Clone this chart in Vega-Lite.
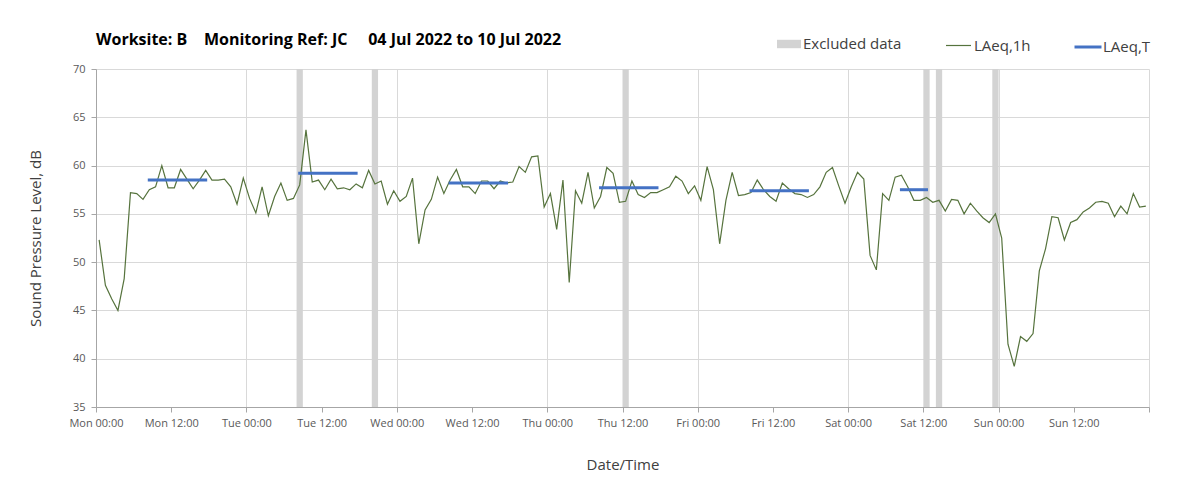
{
  "$schema": "https://vega.github.io/schema/vega-lite/v6.json",
  "width": 1053,
  "height": 338,
  "autosize": {"type": "none"},
  "padding": {"left": 96, "top": 69, "right": 54, "bottom": 90},
  "background": "white",
  "title": {
    "text": "Worksite: B\u00a0\u00a0\u00a0 Monitoring Ref: JC\u00a0\u00a0\u00a0\u00a0 04 Jul 2022 to 10 Jul 2022",
    "anchor": "start",
    "frame": "group",
    "font": "Open Sans",
    "fontSize": 16,
    "fontWeight": "bold",
    "color": "#000000",
    "offset": -16
  },
  "datasets": {
    "excluded": [
      {"start": "2022-07-05T08:00", "end": "2022-07-05T09:00", "label": "Excluded data"},
      {"start": "2022-07-05T20:00", "end": "2022-07-05T21:00", "label": "Excluded data"},
      {"start": "2022-07-07T12:00", "end": "2022-07-07T13:00", "label": "Excluded data"},
      {"start": "2022-07-09T12:00", "end": "2022-07-09T13:00", "label": "Excluded data"},
      {"start": "2022-07-09T14:00", "end": "2022-07-09T15:00", "label": "Excluded data"},
      {"start": "2022-07-09T23:00", "end": "2022-07-10T00:00", "label": "Excluded data"}
    ],
    "periods": [
      {"start": "2022-07-04T08:30", "end": "2022-07-04T17:30", "laeq": 58.5, "series": "LAeq,T"},
      {"start": "2022-07-05T08:30", "end": "2022-07-05T17:30", "laeq": 59.2, "series": "LAeq,T"},
      {"start": "2022-07-06T08:30", "end": "2022-07-06T17:30", "laeq": 58.2, "series": "LAeq,T"},
      {"start": "2022-07-07T08:30", "end": "2022-07-07T17:30", "laeq": 57.7, "series": "LAeq,T"},
      {"start": "2022-07-08T08:30", "end": "2022-07-08T17:30", "laeq": 57.4, "series": "LAeq,T"},
      {"start": "2022-07-09T08:30", "end": "2022-07-09T12:30", "laeq": 57.5, "series": "LAeq,T"}
    ],
    "hourly": [
      {"t": "2022-07-04T00:30", "laeq": 52.3, "series": "LAeq,1h"},
      {"t": "2022-07-04T01:30", "laeq": 47.6, "series": "LAeq,1h"},
      {"t": "2022-07-04T02:30", "laeq": 46.2, "series": "LAeq,1h"},
      {"t": "2022-07-04T03:30", "laeq": 45.0, "series": "LAeq,1h"},
      {"t": "2022-07-04T04:30", "laeq": 48.3, "series": "LAeq,1h"},
      {"t": "2022-07-04T05:30", "laeq": 57.2, "series": "LAeq,1h"},
      {"t": "2022-07-04T06:30", "laeq": 57.1, "series": "LAeq,1h"},
      {"t": "2022-07-04T07:30", "laeq": 56.5, "series": "LAeq,1h"},
      {"t": "2022-07-04T08:30", "laeq": 57.5, "series": "LAeq,1h"},
      {"t": "2022-07-04T09:30", "laeq": 57.8, "series": "LAeq,1h"},
      {"t": "2022-07-04T10:30", "laeq": 60.0, "series": "LAeq,1h"},
      {"t": "2022-07-04T11:30", "laeq": 57.7, "series": "LAeq,1h"},
      {"t": "2022-07-04T12:30", "laeq": 57.7, "series": "LAeq,1h"},
      {"t": "2022-07-04T13:30", "laeq": 59.6, "series": "LAeq,1h"},
      {"t": "2022-07-04T14:30", "laeq": 58.6, "series": "LAeq,1h"},
      {"t": "2022-07-04T15:30", "laeq": 57.6, "series": "LAeq,1h"},
      {"t": "2022-07-04T16:30", "laeq": 58.5, "series": "LAeq,1h"},
      {"t": "2022-07-04T17:30", "laeq": 59.5, "series": "LAeq,1h"},
      {"t": "2022-07-04T18:30", "laeq": 58.5, "series": "LAeq,1h"},
      {"t": "2022-07-04T19:30", "laeq": 58.5, "series": "LAeq,1h"},
      {"t": "2022-07-04T20:30", "laeq": 58.6, "series": "LAeq,1h"},
      {"t": "2022-07-04T21:30", "laeq": 57.8, "series": "LAeq,1h"},
      {"t": "2022-07-04T22:30", "laeq": 56.0, "series": "LAeq,1h"},
      {"t": "2022-07-04T23:30", "laeq": 58.7, "series": "LAeq,1h"},
      {"t": "2022-07-05T00:30", "laeq": 56.6, "series": "LAeq,1h"},
      {"t": "2022-07-05T01:30", "laeq": 55.1, "series": "LAeq,1h"},
      {"t": "2022-07-05T02:30", "laeq": 57.8, "series": "LAeq,1h"},
      {"t": "2022-07-05T03:30", "laeq": 54.8, "series": "LAeq,1h"},
      {"t": "2022-07-05T04:30", "laeq": 56.8, "series": "LAeq,1h"},
      {"t": "2022-07-05T05:30", "laeq": 58.2, "series": "LAeq,1h"},
      {"t": "2022-07-05T06:30", "laeq": 56.4, "series": "LAeq,1h"},
      {"t": "2022-07-05T07:30", "laeq": 56.6, "series": "LAeq,1h"},
      {"t": "2022-07-05T08:30", "laeq": 58.0, "series": "LAeq,1h"},
      {"t": "2022-07-05T09:30", "laeq": 63.7, "series": "LAeq,1h"},
      {"t": "2022-07-05T10:30", "laeq": 58.3, "series": "LAeq,1h"},
      {"t": "2022-07-05T11:30", "laeq": 58.5, "series": "LAeq,1h"},
      {"t": "2022-07-05T12:30", "laeq": 57.5, "series": "LAeq,1h"},
      {"t": "2022-07-05T13:30", "laeq": 58.6, "series": "LAeq,1h"},
      {"t": "2022-07-05T14:30", "laeq": 57.6, "series": "LAeq,1h"},
      {"t": "2022-07-05T15:30", "laeq": 57.7, "series": "LAeq,1h"},
      {"t": "2022-07-05T16:30", "laeq": 57.5, "series": "LAeq,1h"},
      {"t": "2022-07-05T17:30", "laeq": 58.1, "series": "LAeq,1h"},
      {"t": "2022-07-05T18:30", "laeq": 57.7, "series": "LAeq,1h"},
      {"t": "2022-07-05T19:30", "laeq": 59.5, "series": "LAeq,1h"},
      {"t": "2022-07-05T20:30", "laeq": 58.1, "series": "LAeq,1h"},
      {"t": "2022-07-05T21:30", "laeq": 58.4, "series": "LAeq,1h"},
      {"t": "2022-07-05T22:30", "laeq": 56.0, "series": "LAeq,1h"},
      {"t": "2022-07-05T23:30", "laeq": 57.4, "series": "LAeq,1h"},
      {"t": "2022-07-06T00:30", "laeq": 56.3, "series": "LAeq,1h"},
      {"t": "2022-07-06T01:30", "laeq": 56.8, "series": "LAeq,1h"},
      {"t": "2022-07-06T02:30", "laeq": 58.7, "series": "LAeq,1h"},
      {"t": "2022-07-06T03:30", "laeq": 51.9, "series": "LAeq,1h"},
      {"t": "2022-07-06T04:30", "laeq": 55.4, "series": "LAeq,1h"},
      {"t": "2022-07-06T05:30", "laeq": 56.5, "series": "LAeq,1h"},
      {"t": "2022-07-06T06:30", "laeq": 58.8, "series": "LAeq,1h"},
      {"t": "2022-07-06T07:30", "laeq": 57.1, "series": "LAeq,1h"},
      {"t": "2022-07-06T08:30", "laeq": 58.5, "series": "LAeq,1h"},
      {"t": "2022-07-06T09:30", "laeq": 59.6, "series": "LAeq,1h"},
      {"t": "2022-07-06T10:30", "laeq": 57.8, "series": "LAeq,1h"},
      {"t": "2022-07-06T11:30", "laeq": 57.8, "series": "LAeq,1h"},
      {"t": "2022-07-06T12:30", "laeq": 57.1, "series": "LAeq,1h"},
      {"t": "2022-07-06T13:30", "laeq": 58.4, "series": "LAeq,1h"},
      {"t": "2022-07-06T14:30", "laeq": 58.4, "series": "LAeq,1h"},
      {"t": "2022-07-06T15:30", "laeq": 57.6, "series": "LAeq,1h"},
      {"t": "2022-07-06T16:30", "laeq": 58.4, "series": "LAeq,1h"},
      {"t": "2022-07-06T17:30", "laeq": 58.2, "series": "LAeq,1h"},
      {"t": "2022-07-06T18:30", "laeq": 58.3, "series": "LAeq,1h"},
      {"t": "2022-07-06T19:30", "laeq": 59.9, "series": "LAeq,1h"},
      {"t": "2022-07-06T20:30", "laeq": 59.3, "series": "LAeq,1h"},
      {"t": "2022-07-06T21:30", "laeq": 60.9, "series": "LAeq,1h"},
      {"t": "2022-07-06T22:30", "laeq": 61.0, "series": "LAeq,1h"},
      {"t": "2022-07-06T23:30", "laeq": 55.7, "series": "LAeq,1h"},
      {"t": "2022-07-07T00:30", "laeq": 57.1, "series": "LAeq,1h"},
      {"t": "2022-07-07T01:30", "laeq": 53.4, "series": "LAeq,1h"},
      {"t": "2022-07-07T02:30", "laeq": 58.5, "series": "LAeq,1h"},
      {"t": "2022-07-07T03:30", "laeq": 47.9, "series": "LAeq,1h"},
      {"t": "2022-07-07T04:30", "laeq": 57.4, "series": "LAeq,1h"},
      {"t": "2022-07-07T05:30", "laeq": 56.1, "series": "LAeq,1h"},
      {"t": "2022-07-07T06:30", "laeq": 59.3, "series": "LAeq,1h"},
      {"t": "2022-07-07T07:30", "laeq": 55.6, "series": "LAeq,1h"},
      {"t": "2022-07-07T08:30", "laeq": 56.8, "series": "LAeq,1h"},
      {"t": "2022-07-07T09:30", "laeq": 59.8, "series": "LAeq,1h"},
      {"t": "2022-07-07T10:30", "laeq": 59.2, "series": "LAeq,1h"},
      {"t": "2022-07-07T11:30", "laeq": 56.2, "series": "LAeq,1h"},
      {"t": "2022-07-07T12:30", "laeq": 56.3, "series": "LAeq,1h"},
      {"t": "2022-07-07T13:30", "laeq": 58.4, "series": "LAeq,1h"},
      {"t": "2022-07-07T14:30", "laeq": 57.0, "series": "LAeq,1h"},
      {"t": "2022-07-07T15:30", "laeq": 56.7, "series": "LAeq,1h"},
      {"t": "2022-07-07T16:30", "laeq": 57.2, "series": "LAeq,1h"},
      {"t": "2022-07-07T17:30", "laeq": 57.2, "series": "LAeq,1h"},
      {"t": "2022-07-07T18:30", "laeq": 57.5, "series": "LAeq,1h"},
      {"t": "2022-07-07T19:30", "laeq": 57.8, "series": "LAeq,1h"},
      {"t": "2022-07-07T20:30", "laeq": 58.9, "series": "LAeq,1h"},
      {"t": "2022-07-07T21:30", "laeq": 58.4, "series": "LAeq,1h"},
      {"t": "2022-07-07T22:30", "laeq": 57.1, "series": "LAeq,1h"},
      {"t": "2022-07-07T23:30", "laeq": 57.9, "series": "LAeq,1h"},
      {"t": "2022-07-08T00:30", "laeq": 56.4, "series": "LAeq,1h"},
      {"t": "2022-07-08T01:30", "laeq": 59.9, "series": "LAeq,1h"},
      {"t": "2022-07-08T02:30", "laeq": 57.5, "series": "LAeq,1h"},
      {"t": "2022-07-08T03:30", "laeq": 51.9, "series": "LAeq,1h"},
      {"t": "2022-07-08T04:30", "laeq": 56.4, "series": "LAeq,1h"},
      {"t": "2022-07-08T05:30", "laeq": 59.3, "series": "LAeq,1h"},
      {"t": "2022-07-08T06:30", "laeq": 56.9, "series": "LAeq,1h"},
      {"t": "2022-07-08T07:30", "laeq": 57.0, "series": "LAeq,1h"},
      {"t": "2022-07-08T08:30", "laeq": 57.2, "series": "LAeq,1h"},
      {"t": "2022-07-08T09:30", "laeq": 58.5, "series": "LAeq,1h"},
      {"t": "2022-07-08T10:30", "laeq": 57.5, "series": "LAeq,1h"},
      {"t": "2022-07-08T11:30", "laeq": 56.8, "series": "LAeq,1h"},
      {"t": "2022-07-08T12:30", "laeq": 56.3, "series": "LAeq,1h"},
      {"t": "2022-07-08T13:30", "laeq": 58.2, "series": "LAeq,1h"},
      {"t": "2022-07-08T14:30", "laeq": 57.6, "series": "LAeq,1h"},
      {"t": "2022-07-08T15:30", "laeq": 57.1, "series": "LAeq,1h"},
      {"t": "2022-07-08T16:30", "laeq": 57.0, "series": "LAeq,1h"},
      {"t": "2022-07-08T17:30", "laeq": 56.7, "series": "LAeq,1h"},
      {"t": "2022-07-08T18:30", "laeq": 57.0, "series": "LAeq,1h"},
      {"t": "2022-07-08T19:30", "laeq": 57.8, "series": "LAeq,1h"},
      {"t": "2022-07-08T20:30", "laeq": 59.3, "series": "LAeq,1h"},
      {"t": "2022-07-08T21:30", "laeq": 59.8, "series": "LAeq,1h"},
      {"t": "2022-07-08T22:30", "laeq": 57.9, "series": "LAeq,1h"},
      {"t": "2022-07-08T23:30", "laeq": 56.1, "series": "LAeq,1h"},
      {"t": "2022-07-09T00:30", "laeq": 57.8, "series": "LAeq,1h"},
      {"t": "2022-07-09T01:30", "laeq": 59.3, "series": "LAeq,1h"},
      {"t": "2022-07-09T02:30", "laeq": 58.6, "series": "LAeq,1h"},
      {"t": "2022-07-09T03:30", "laeq": 50.7, "series": "LAeq,1h"},
      {"t": "2022-07-09T04:30", "laeq": 49.2, "series": "LAeq,1h"},
      {"t": "2022-07-09T05:30", "laeq": 57.1, "series": "LAeq,1h"},
      {"t": "2022-07-09T06:30", "laeq": 56.4, "series": "LAeq,1h"},
      {"t": "2022-07-09T07:30", "laeq": 58.8, "series": "LAeq,1h"},
      {"t": "2022-07-09T08:30", "laeq": 59.0, "series": "LAeq,1h"},
      {"t": "2022-07-09T09:30", "laeq": 57.8, "series": "LAeq,1h"},
      {"t": "2022-07-09T10:30", "laeq": 56.4, "series": "LAeq,1h"},
      {"t": "2022-07-09T11:30", "laeq": 56.4, "series": "LAeq,1h"},
      {"t": "2022-07-09T12:30", "laeq": 56.7, "series": "LAeq,1h"},
      {"t": "2022-07-09T13:30", "laeq": 56.2, "series": "LAeq,1h"},
      {"t": "2022-07-09T14:30", "laeq": 56.4, "series": "LAeq,1h"},
      {"t": "2022-07-09T15:30", "laeq": 55.3, "series": "LAeq,1h"},
      {"t": "2022-07-09T16:30", "laeq": 56.5, "series": "LAeq,1h"},
      {"t": "2022-07-09T17:30", "laeq": 56.4, "series": "LAeq,1h"},
      {"t": "2022-07-09T18:30", "laeq": 55.0, "series": "LAeq,1h"},
      {"t": "2022-07-09T19:30", "laeq": 56.1, "series": "LAeq,1h"},
      {"t": "2022-07-09T20:30", "laeq": 55.3, "series": "LAeq,1h"},
      {"t": "2022-07-09T21:30", "laeq": 54.6, "series": "LAeq,1h"},
      {"t": "2022-07-09T22:30", "laeq": 54.1, "series": "LAeq,1h"},
      {"t": "2022-07-09T23:30", "laeq": 55.0, "series": "LAeq,1h"},
      {"t": "2022-07-10T00:30", "laeq": 52.5, "series": "LAeq,1h"},
      {"t": "2022-07-10T01:30", "laeq": 41.5, "series": "LAeq,1h"},
      {"t": "2022-07-10T02:30", "laeq": 39.2, "series": "LAeq,1h"},
      {"t": "2022-07-10T03:30", "laeq": 42.3, "series": "LAeq,1h"},
      {"t": "2022-07-10T04:30", "laeq": 41.8, "series": "LAeq,1h"},
      {"t": "2022-07-10T05:30", "laeq": 42.6, "series": "LAeq,1h"},
      {"t": "2022-07-10T06:30", "laeq": 49.1, "series": "LAeq,1h"},
      {"t": "2022-07-10T07:30", "laeq": 51.4, "series": "LAeq,1h"},
      {"t": "2022-07-10T08:30", "laeq": 54.7, "series": "LAeq,1h"},
      {"t": "2022-07-10T09:30", "laeq": 54.6, "series": "LAeq,1h"},
      {"t": "2022-07-10T10:30", "laeq": 52.3, "series": "LAeq,1h"},
      {"t": "2022-07-10T11:30", "laeq": 54.1, "series": "LAeq,1h"},
      {"t": "2022-07-10T12:30", "laeq": 54.4, "series": "LAeq,1h"},
      {"t": "2022-07-10T13:30", "laeq": 55.2, "series": "LAeq,1h"},
      {"t": "2022-07-10T14:30", "laeq": 55.6, "series": "LAeq,1h"},
      {"t": "2022-07-10T15:30", "laeq": 56.2, "series": "LAeq,1h"},
      {"t": "2022-07-10T16:30", "laeq": 56.3, "series": "LAeq,1h"},
      {"t": "2022-07-10T17:30", "laeq": 56.1, "series": "LAeq,1h"},
      {"t": "2022-07-10T18:30", "laeq": 54.7, "series": "LAeq,1h"},
      {"t": "2022-07-10T19:30", "laeq": 55.8, "series": "LAeq,1h"},
      {"t": "2022-07-10T20:30", "laeq": 55.0, "series": "LAeq,1h"},
      {"t": "2022-07-10T21:30", "laeq": 57.1, "series": "LAeq,1h"},
      {"t": "2022-07-10T22:30", "laeq": 55.7, "series": "LAeq,1h"},
      {"t": "2022-07-10T23:30", "laeq": 55.8, "series": "LAeq,1h"}
    ]
  },
  "layer": [
    {
      "data": {"name": "excluded"},
      "mark": {"type": "rect"},
      "encoding": {
        "x": {
          "field": "start",
          "type": "temporal",
          "title": "Date/Time",
          "scale": {"domain": [{"year": 2022, "month": 7, "date": 4, "hours": 0}, {"year": 2022, "month": 7, "date": 11, "hours": 0}]},
          "axis": {
            "values": [
              {"year": 2022, "month": 7, "date": 4, "hours": 0},
              {"year": 2022, "month": 7, "date": 4, "hours": 12},
              {"year": 2022, "month": 7, "date": 5, "hours": 0},
              {"year": 2022, "month": 7, "date": 5, "hours": 12},
              {"year": 2022, "month": 7, "date": 6, "hours": 0},
              {"year": 2022, "month": 7, "date": 6, "hours": 12},
              {"year": 2022, "month": 7, "date": 7, "hours": 0},
              {"year": 2022, "month": 7, "date": 7, "hours": 12},
              {"year": 2022, "month": 7, "date": 8, "hours": 0},
              {"year": 2022, "month": 7, "date": 8, "hours": 12},
              {"year": 2022, "month": 7, "date": 9, "hours": 0},
              {"year": 2022, "month": 7, "date": 9, "hours": 12},
              {"year": 2022, "month": 7, "date": 10, "hours": 0},
              {"year": 2022, "month": 7, "date": 10, "hours": 12},
              {"year": 2022, "month": 7, "date": 11, "hours": 0}
            ],
            "labelExpr": "date(datum.value) == 11 ? '' : timeFormat(datum.value, '%a %H:%M')",
            "labelFont": "Open Sans",
            "labelFontSize": 11,
            "labelColor": "#595959",
            "labelPadding": 5,
            "labelFlush": false,
            "labelOverlap": false,
            "tickSize": 5,
            "tickColor": "#a6a6a6",
            "domainColor": "#a6a6a6",
            "grid": true,
            "gridColor": "#d9d9d9",
            "gridOpacity": {"condition": {"test": "hours(datum.value) == 12", "value": 0}, "value": 1},
            "titleFont": "Open Sans",
            "titleFontSize": 15,
            "titleFontWeight": "normal",
            "titleColor": "#404040",
            "titlePadding": 29
          }
        },
        "x2": {"field": "end"},
        "fill": {
          "field": "label",
          "type": "nominal",
          "scale": {"range": ["#d3d3d3"]},
          "legend": {
            "title": null,
            "orient": "none",
            "legendX": 681,
            "legendY": -37,
            "padding": 0,
            "symbolType": "M-1,-0.35H1V0.35H-1Z",
            "symbolSize": 576,
            "symbolStrokeWidth": 0,
            "labelFont": "Open Sans",
            "labelFontSize": 15,
            "labelColor": "#404040",
            "labelOffset": 2
          }
        }
      }
    },
    {
      "data": {"name": "hourly"},
      "mark": {"type": "line", "strokeWidth": 1.2},
      "encoding": {
        "x": {"field": "t", "type": "temporal", "title": "Date/Time"},
        "y": {
          "field": "laeq",
          "type": "quantitative",
          "title": "Sound Pressure Level, dB",
          "scale": {"domain": [35, 70], "nice": false, "zero": false},
          "axis": {
            "values": [35, 40, 45, 50, 55, 60, 65, 70],
            "labelFont": "Open Sans",
            "labelFontSize": 11,
            "labelColor": "#595959",
            "labelPadding": 6,
            "tickSize": 5,
            "tickColor": "#a6a6a6",
            "domainColor": "#a6a6a6",
            "grid": true,
            "gridColor": "#d9d9d9",
            "titleFont": "Open Sans",
            "titleFontSize": 15,
            "titleFontWeight": "normal",
            "titleColor": "#404040",
            "titlePadding": 29
          }
        },
        "stroke": {
          "field": "series",
          "type": "nominal",
          "scale": {"range": ["#56733d"]},
          "legend": {
            "title": null,
            "orient": "none",
            "legendX": 849,
            "legendY": -37,
            "padding": 0,
            "symbolType": "stroke",
            "symbolSize": 625,
            "symbolStrokeWidth": 1.2,
            "labelFont": "Open Sans",
            "labelFontSize": 15,
            "labelColor": "#404040",
            "labelOffset": 2
          }
        }
      }
    },
    {
      "data": {"name": "periods"},
      "mark": {"type": "rule", "strokeWidth": 3, "strokeCap": "square"},
      "encoding": {
        "x": {"field": "start", "type": "temporal", "title": "Date/Time"},
        "x2": {"field": "end"},
        "y": {"field": "laeq", "type": "quantitative", "title": "Sound Pressure Level, dB"},
        "color": {
          "field": "series",
          "type": "nominal",
          "scale": {"range": ["#4472c4"]},
          "legend": {
            "title": null,
            "orient": "none",
            "legendX": 977,
            "legendY": -37,
            "padding": 0,
            "symbolType": "stroke",
            "symbolSize": 729,
            "symbolStrokeWidth": 3,
            "labelFont": "Open Sans",
            "labelFontSize": 15,
            "labelColor": "#404040",
            "labelOffset": 0
          }
        }
      }
    }
  ],
  "config": {
    "view": {"stroke": null},
    "font": "Open Sans"
  }
}
